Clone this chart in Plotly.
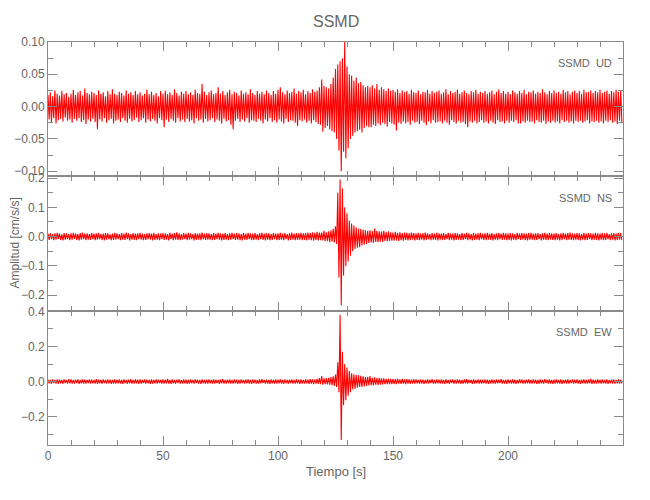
import plotly.graph_objects as go
from plotly.subplots import make_subplots

# ---------------- data (cm/s/s) ----------------
# one bin per second: upper / lower excursion of the trace in that second
bin_start_s = list(range(250))

ud_hi = [
    .018, .022, .016, .025, .020, .017, .024, .019, .021, .015,
    .020, .026, .018, .022, .024, .017, .028, .021, .019, .023,
    .021, .018, .025, .020, .022, .016, .024, .019, .027, .020,
    .018, .023, .021, .017, .025, .020, .022, .018, .024, .019,
    .022, .017, .020, .026, .019, .023, .018, .021, .016, .024,
    .020, .025, .019, .022, .018, .027, .021, .017, .023, .020,
    .024, .019, .022, .018, .026, .021, .020, .035, .023, .018,
    .022, .025, .019, .021, .030, .020, .024, .018, .022, .026,
    .019, .023, .021, .017, .025, .020, .022, .019, .027, .021,
    .018, .024, .020, .023, .019, .025, .021, .018, .024, .020,
    .026, .030, .022, .019, .025, .021, .023, .028, .020, .024,
    .022, .026, .019, .024, .021, .027, .023, .025, .030, .042,
    .032, .030, .028, .035, .045, .058, .065, .070, .075, .100,
    .062, .050, .048, .040, .045, .036, .038, .033, .030, .032,
    .030, .033, .028, .035, .026, .030, .027, .024, .028, .025,
    .026, .023, .027, .021, .025, .022, .024, .020, .026, .022,
    .021, .025, .019, .023, .022, .026, .020, .024, .021, .023,
    .025, .020, .022, .027, .019, .024, .021, .023, .026, .020,
    .022, .025, .021, .019, .024, .022, .026, .020, .023, .021,
    .024, .020, .022, .025, .019, .023, .027, .021, .024, .020,
    .023, .019, .025, .022, .020, .024, .021, .026, .019, .023,
    .022, .025, .020, .023, .021, .027, .022, .019, .024, .021,
    .025, .021, .023, .020, .026, .022, .024, .019, .023, .025,
    .021, .024, .020, .026, .022, .023, .025, .021, .024, .022,
    .026, .021, .023, .025, .020, .024, .022, .026, .023, .025,
]
ud_lo = [
    -.020, -.024, -.018, -.026, -.021, -.019, -.023, -.017, -.022, -.020,
    -.025, -.019, -.022, -.018, -.024, -.021, -.027, -.020, -.023, -.019,
    -.024, -.035, -.020, -.023, -.018, -.025, -.021, -.019, -.026, -.022,
    -.020, -.024, -.018, -.022, -.025, -.019, -.023, -.021, -.017, -.024,
    -.021, -.018, -.025, -.020, -.023, -.019, -.022, -.026, -.018, -.021,
    -.032, -.020, -.024, -.019, -.022, -.025, -.018, -.023, -.020, -.024,
    -.019, -.023, -.021, -.026, -.018, -.022, -.020, -.025, -.019, -.023,
    -.021, -.018, -.024, -.020, -.022, -.026, -.019, -.023, -.021, -.028,
    -.035, -.022, -.019, -.024, -.020, -.023, -.018, -.025, -.021, -.022,
    -.024, -.019, -.022, -.026, -.020, -.023, -.018, -.024, -.021, -.025,
    -.020, -.023, -.026, -.019, -.024, -.021, -.022, -.025, -.030, -.021,
    -.023, -.020, -.025, -.022, -.026, -.021, -.024, -.027, -.028, -.039,
    -.033, -.030, -.035, -.038, -.040, -.050, -.068, -.100, -.070, -.080,
    -.065, -.050, -.045, -.040, -.038, -.036, -.040, -.033, -.030, -.032,
    -.032, -.028, -.030, -.026, -.029, -.025, -.027, -.031, -.024, -.026,
    -.028, -.037, -.025, -.027, -.023, -.026, -.024, -.028, -.022, -.025,
    -.024, -.027, -.022, -.025, -.029, -.023, -.026, -.021, -.025, -.024,
    -.023, -.026, -.022, -.025, -.028, -.021, -.024, -.026, -.022, -.025,
    -.024, -.027, -.032, -.023, -.025, -.022, -.026, -.024, -.021, -.025,
    -.023, -.026, -.022, -.025, -.027, -.021, -.024, -.023, -.026, -.022,
    -.025, -.022, -.024, -.021, -.026, -.026, -.023, -.025, -.022, -.024,
    -.023, -.026, -.021, -.024, -.025, -.022, -.027, -.023, -.025, -.022,
    -.025, -.023, -.026, -.021, -.024, -.022, -.025, -.023, -.026, -.022,
    -.024, -.022, -.025, -.023, -.021, -.026, -.023, -.024, -.022, -.025,
    -.023, -.026, -.022, -.024, -.021, -.025, -.023, -.027, -.022, -.024,
]

ns_hi = [
    .010, .012, .009, .011, .013, .010, .008, .012, .011, .009,
    .011, .013, .010, .009, .012, .014, .010, .011, .009, .012,
    .010, .011, .013, .009, .010, .012, .011, .008, .010, .013,
    .011, .009, .012, .010, .014, .011, .009, .012, .010, .011,
    .013, .010, .009, .011, .012, .010, .013, .009, .011, .010,
    .012, .011, .009, .013, .010, .012, .015, .011, .009, .012,
    .010, .013, .011, .009, .012, .010, .011, .014, .010, .012,
    .011, .009, .012, .010, .013, .011, .010, .012, .009, .011,
    .013, .010, .012, .011, .009, .012, .010, .013, .011, .010,
    .012, .009, .011, .013, .010, .012, .011, .009, .012, .010,
    .011, .013, .010, .012, .009, .011, .014, .010, .012, .011,
    .013, .011, .012, .014, .012, .015, .013, .016, .014, .014,
    .020, .015, .018, .022, .027, .035, .150, .195, .165, .100,
    .080, .055, .045, .038, .032, .028, .026, .024, .022, .020,
    .022, .019, .028, .020, .018, .017, .020, .016, .018, .015,
    .014, .016, .013, .015, .012, .014, .013, .011, .014, .012,
    .011, .013, .010, .012, .014, .011, .009, .012, .010, .013,
    .011, .010, .012, .009, .013, .011, .010, .012, .011, .009,
    .012, .010, .013, .011, .009, .012, .010, .011, .013, .010,
    .011, .013, .010, .012, .009, .011, .012, .010, .013, .011,
    .010, .012, .011, .009, .013, .010, .012, .011, .010, .012,
    .013, .010, .011, .012, .009, .011, .013, .010, .012, .011,
    .010, .012, .009, .011, .013, .010, .012, .014, .011, .010,
    .012, .011, .009, .013, .010, .012, .011, .010, .013, .011,
    .010, .012, .011, .013, .009, .011, .012, .010, .013, .012,
]
ns_lo = [
    -.011, -.009, -.012, -.010, -.008, -.011, -.013, -.010, -.009, -.012,
    -.010, -.008, -.011, -.013, -.010, -.009, -.012, -.010, -.011, -.009,
    -.012, -.010, -.009, -.011, -.013, -.010, -.009, -.012, -.011, -.010,
    -.009, -.012, -.010, -.011, -.009, -.013, -.010, -.011, -.012, -.009,
    -.010, -.012, -.011, -.009, -.010, -.013, -.011, -.010, -.012, -.009,
    -.011, -.010, -.013, -.009, -.012, -.010, -.011, -.012, -.010, -.009,
    -.012, -.010, -.009, -.013, -.011, -.010, -.012, -.009, -.011, -.010,
    -.010, -.012, -.011, -.009, -.010, -.013, -.011, -.010, -.012, -.010,
    -.009, -.011, -.010, -.012, -.013, -.010, -.011, -.009, -.012, -.011,
    -.010, -.012, -.009, -.011, -.013, -.010, -.012, -.011, -.009, -.012,
    -.011, -.010, -.012, -.009, -.013, -.011, -.010, -.012, -.011, -.010,
    -.012, -.011, -.013, -.010, -.012, -.014, -.011, -.013, -.012, -.013,
    -.016, -.015, -.018, -.017, -.020, -.025, -.140, -.235, -.133, -.100,
    -.085, -.065, -.050, -.042, -.038, -.036, -.030, -.028, -.025, -.022,
    -.020, -.021, -.018, -.019, -.017, -.018, -.015, -.016, -.014, -.014,
    -.014, -.013, -.015, -.012, -.014, -.011, -.013, -.012, -.010, -.013,
    -.011, -.012, -.010, -.013, -.011, -.009, -.012, -.010, -.011, -.013,
    -.010, -.012, -.011, -.009, -.012, -.010, -.013, -.011, -.010, -.012,
    -.011, -.009, -.012, -.010, -.013, -.011, -.010, -.012, -.009, -.011,
    -.012, -.010, -.011, -.013, -.010, -.012, -.009, -.011, -.010, -.012,
    -.011, -.013, -.010, -.012, -.009, -.011, -.010, -.012, -.013, -.010,
    -.010, -.012, -.011, -.009, -.013, -.010, -.011, -.012, -.010, -.011,
    -.012, -.010, -.013, -.011, -.009, -.012, -.010, -.011, -.012, -.010,
    -.011, -.013, -.010, -.012, -.011, -.009, -.012, -.010, -.011, -.013,
    -.010, -.012, -.011, -.009, -.012, -.010, -.013, -.011, -.010, -.012,
]

ew_hi = [
    .011, .009, .012, .010, .013, .011, .009, .012, .010, .014,
    .012, .010, .011, .013, .009, .012, .011, .010, .013, .011,
    .010, .014, .011, .009, .012, .010, .013, .011, .010, .012,
    .011, .013, .010, .012, .009, .011, .014, .010, .012, .011,
    .013, .010, .012, .011, .009, .012, .010, .013, .011, .010,
    .012, .011, .015, .010, .012, .009, .011, .013, .010, .012,
    .011, .009, .012, .010, .013, .011, .010, .012, .009, .011,
    .013, .010, .012, .011, .009, .012, .014, .010, .011, .012,
    .010, .013, .011, .009, .012, .010, .011, .013, .010, .012,
    .011, .010, .012, .014, .010, .011, .009, .012, .010, .013,
    .011, .012, .010, .013, .009, .011, .012, .010, .013, .011,
    .012, .010, .013, .011, .014, .012, .013, .015, .020, .032,
    .018, .020, .022, .026, .030, .040, .110, .380, .170, .100,
    .080, .060, .048, .042, .038, .036, .033, .030, .026, .028,
    .032, .022, .024, .020, .022, .018, .019, .016, .017, .015,
    .015, .014, .016, .013, .015, .012, .014, .013, .011, .014,
    .012, .010, .013, .011, .009, .012, .011, .014, .010, .012,
    .011, .013, .010, .012, .009, .011, .013, .010, .012, .011,
    .010, .012, .014, .011, .009, .012, .010, .013, .011, .010,
    .012, .011, .009, .013, .010, .012, .011, .014, .010, .011,
    .013, .010, .012, .011, .009, .012, .013, .010, .011, .012,
    .010, .013, .011, .009, .012, .010, .014, .011, .012, .010,
    .011, .012, .010, .013, .009, .011, .012, .010, .013, .011,
    .012, .010, .011, .013, .010, .012, .015, .011, .010, .012,
    .011, .013, .010, .012, .009, .011, .013, .010, .012, .011,
]
ew_lo = [
    -.010, -.012, -.009, -.011, -.013, -.010, -.012, -.009, -.011, -.010,
    -.012, -.011, -.009, -.013, -.010, -.012, -.011, -.009, -.012, -.010,
    -.011, -.013, -.010, -.012, -.009, -.011, -.010, -.013, -.011, -.012,
    -.010, -.011, -.013, -.009, -.012, -.010, -.011, -.012, -.010, -.013,
    -.011, -.009, -.012, -.010, -.013, -.011, -.010, -.012, -.009, -.011,
    -.012, -.010, -.011, -.013, -.010, -.012, -.009, -.011, -.012, -.010,
    -.013, -.011, -.010, -.012, -.009, -.011, -.013, -.010, -.012, -.011,
    -.010, -.012, -.011, -.009, -.013, -.010, -.011, -.012, -.010, -.011,
    -.012, -.010, -.013, -.011, -.009, -.012, -.010, -.011, -.013, -.010,
    -.011, -.012, -.010, -.009, -.012, -.011, -.013, -.010, -.011, -.012,
    -.010, -.011, -.013, -.010, -.012, -.009, -.011, -.012, -.010, -.013,
    -.011, -.012, -.010, -.013, -.011, -.014, -.012, -.013, -.014, -.018,
    -.015, -.016, -.018, -.020, -.025, -.030, -.060, -.333, -.134, -.106,
    -.080, -.060, -.045, -.040, -.035, -.030, -.030, -.028, -.025, -.022,
    -.020, -.021, -.018, -.019, -.017, -.016, -.015, -.014, -.015, -.014,
    -.013, -.014, -.012, -.013, -.011, -.014, -.012, -.013, -.011, -.012,
    -.010, -.012, -.011, -.013, -.010, -.012, -.009, -.011, -.012, -.010,
    -.012, -.011, -.013, -.010, -.012, -.009, -.011, -.012, -.010, -.013,
    -.011, -.010, -.012, -.009, -.013, -.011, -.010, -.012, -.011, -.010,
    -.012, -.013, -.010, -.011, -.012, -.010, -.009, -.012, -.011, -.013,
    -.010, -.012, -.011, -.013, -.010, -.009, -.012, -.011, -.010, -.012,
    -.011, -.010, -.013, -.012, -.010, -.011, -.009, -.012, -.011, -.013,
    -.012, -.010, -.011, -.013, -.010, -.012, -.011, -.009, -.012, -.010,
    -.011, -.013, -.010, -.012, -.011, -.010, -.013, -.011, -.012, -.010,
    -.012, -.010, -.011, -.013, -.010, -.012, -.011, -.010, -.012, -.011,
]

component_labels = ["SSMD\u00a0\u00a0UD", "SSMD\u00a0\u00a0NS", "SSMD\u00a0\u00a0EW"]
x_ticks = [0, 50, 100, 150, 200]

# ---------------- figure ----------------
FONT = "Liberation Sans, Arial, sans-serif"
TXT = "#666666"
AX = "#8a8a8a"

fig = make_subplots(rows=3, cols=1, shared_xaxes=True, vertical_spacing=0)

series = [(ud_hi, ud_lo), (ns_hi, ns_lo), (ew_hi, ew_lo)]
for row, (hi, lo) in enumerate(series, start=1):
    xs, ys = [], []
    for t, h, l in zip(bin_start_s, hi, lo):
        xs += [t, t + 0.5]
        ys += [h, l]
    fig.add_trace(go.Scatter(x=xs, y=ys, mode="lines",
                             line=dict(color="#ff0000", width=1.1),
                             hoverinfo="skip", showlegend=False),
                  row=row, col=1)

common = dict(showline=True, linecolor=AX, linewidth=1, mirror="ticks",
              ticks="inside", tickcolor=AX, showgrid=False, zeroline=False,
              automargin=False,
              tickfont=dict(family=FONT, size=12, color=TXT))

for row in (1, 2, 3):
    fig.update_xaxes(range=[0, 250], tickvals=x_ticks, ticklen=9,
                     minor=dict(dtick=10, tick0=0, ticklen=5, ticks="inside",
                                tickcolor=AX, showgrid=False),
                     row=row, col=1, **common)

fig.update_yaxes(range=[-0.108, 0.10], dtick=0.05, tick0=0, tickformat=".2f",
                 ticklen=9, minor=dict(dtick=0.025, tick0=0, ticklen=5,
                                       ticks="inside", tickcolor=AX),
                 row=1, col=1, **common)
fig.update_yaxes(range=[-0.253, 0.206], dtick=0.1, tick0=0, tickformat=".1f",
                 ticklen=9, minor=dict(dtick=0.05, tick0=0, ticklen=5,
                                       ticks="inside", tickcolor=AX),
                 row=2, col=1, **common)
fig.update_yaxes(range=[-0.361, 0.404], dtick=0.2, tick0=0, tickformat=".1f",
                 ticklen=9, minor=dict(dtick=0.1, tick0=0, ticklen=5,
                                       ticks="inside", tickcolor=AX),
                 row=3, col=1, **common)

annotations = [
    dict(text="SSMD", x=0.5, y=1.0, xref="paper", yref="paper",
         xanchor="center", yanchor="bottom", yshift=10, showarrow=False,
         font=dict(family=FONT, size=16, color=TXT)),
    dict(text="Tiempo [s]", x=0.5, y=0, xref="paper", yref="paper",
         xanchor="center", yanchor="top", yshift=-17, showarrow=False,
         font=dict(family=FONT, size=13, color=TXT)),
    dict(text="Amplitud [cm/s/s]", x=0, y=0.5, xref="paper", yref="paper",
         xanchor="center", yanchor="middle", xshift=-34, textangle=-90,
         showarrow=False, font=dict(family=FONT, size=12, color=TXT)),
]
for i, lab in enumerate(component_labels):
    yref = "y domain" if i == 0 else f"y{i + 1} domain"
    annotations.append(dict(text=lab, x=0.985, y=0.84, xref="paper", yref=yref,
                            xanchor="right", yanchor="middle", showarrow=False,
                            font=dict(family=FONT, size=11, color=TXT)))

fig.update_layout(width=650, height=500, margin=dict(l=48, r=27, t=42, b=55),
                  plot_bgcolor="white", paper_bgcolor="white",
                  annotations=annotations, showlegend=False)

fig.write_html("out.html", config={"displayModeBar": False},
               post_script="document.body.style.margin='0';"
                           "document.body.style.overflow='hidden';")
